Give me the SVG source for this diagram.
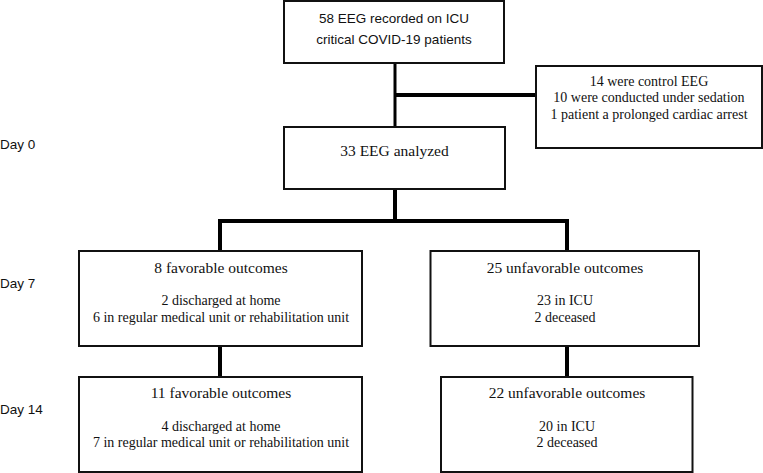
<svg xmlns="http://www.w3.org/2000/svg" width="763" height="473" viewBox="0 0 763 473">
<style>
.box{fill:#fff;stroke:#111;stroke-width:2}
.ln{stroke:#000;fill:none}
.s{font-family:"Liberation Sans",Arial,sans-serif;font-size:13.5px;fill:#111}
.t{font-family:"Liberation Serif","Times New Roman",serif;fill:#111;text-anchor:middle}
.h{font-size:15.5px}
.b{font-size:14px}
.c{text-anchor:middle}
</style>
<rect width="763" height="473" fill="#fff"/>
<g id="connectors">
<path class="ln" stroke-width="3" d="M395,63V127"/>
<path class="ln" stroke-width="4" d="M395,95H536"/>
<path class="ln" stroke-width="4" d="M395,189V221M220,251V221H567V251"/>
<path class="ln" stroke-width="4" d="M220,346V377M567,346V377"/>
</g>
<g id="labels">
<text class="s" x="0" y="148.5">Day 0</text>
<text class="s" x="0" y="288">Day 7</text>
<text class="s" x="0" y="413.5">Day 14</text>
</g>
<g id="n1">
<rect class="box" x="284" y="1" width="220" height="62"/>
<text class="s c" x="394" y="22.5">58 EEG recorded on ICU</text>
<text class="s c" x="394" y="44">critical COVID-19 patients</text>
</g>
<g id="n2">
<rect class="box" x="536" y="66" width="226" height="82"/>
<text class="t b" x="649" y="85.5">14 were control EEG</text>
<text class="t b" x="649" y="102">10 were conducted under sedation</text>
<text class="t b" x="649" y="118.5">1 patient a prolonged cardiac arrest</text>
</g>
<g id="n3">
<rect class="box" x="284" y="127" width="221" height="62"/>
<text class="t h" x="394.5" y="156">33 EEG analyzed</text>
</g>
<g id="n4">
<rect class="box" x="79" y="251" width="283" height="95"/>
<text class="t h" x="221" y="272.5">8 favorable outcomes</text>
<text class="t b" x="221" y="305">2 discharged at home</text>
<text class="t b" x="221" y="322">6 in regular medical unit or rehabilitation unit</text>
</g>
<g id="n5">
<rect class="box" x="430.5" y="251" width="268.5" height="95"/>
<text class="t h" x="565" y="272.5">25 unfavorable outcomes</text>
<text class="t b" x="565" y="305">23 in ICU</text>
<text class="t b" x="565" y="322">2 deceased</text>
</g>
<g id="n6">
<rect class="box" x="79" y="377" width="283" height="95"/>
<text class="t h" x="221" y="398">11 favorable outcomes</text>
<text class="t b" x="221" y="430.5">4 discharged at home</text>
<text class="t b" x="221" y="447">7 in regular medical unit or rehabilitation unit</text>
</g>
<g id="n7">
<rect class="box" x="441" y="377" width="251.5" height="95"/>
<text class="t h" x="567" y="398">22 unfavorable outcomes</text>
<text class="t b" x="567" y="430.5">20 in ICU</text>
<text class="t b" x="567" y="447">2 deceased</text>
</g>
</svg>
